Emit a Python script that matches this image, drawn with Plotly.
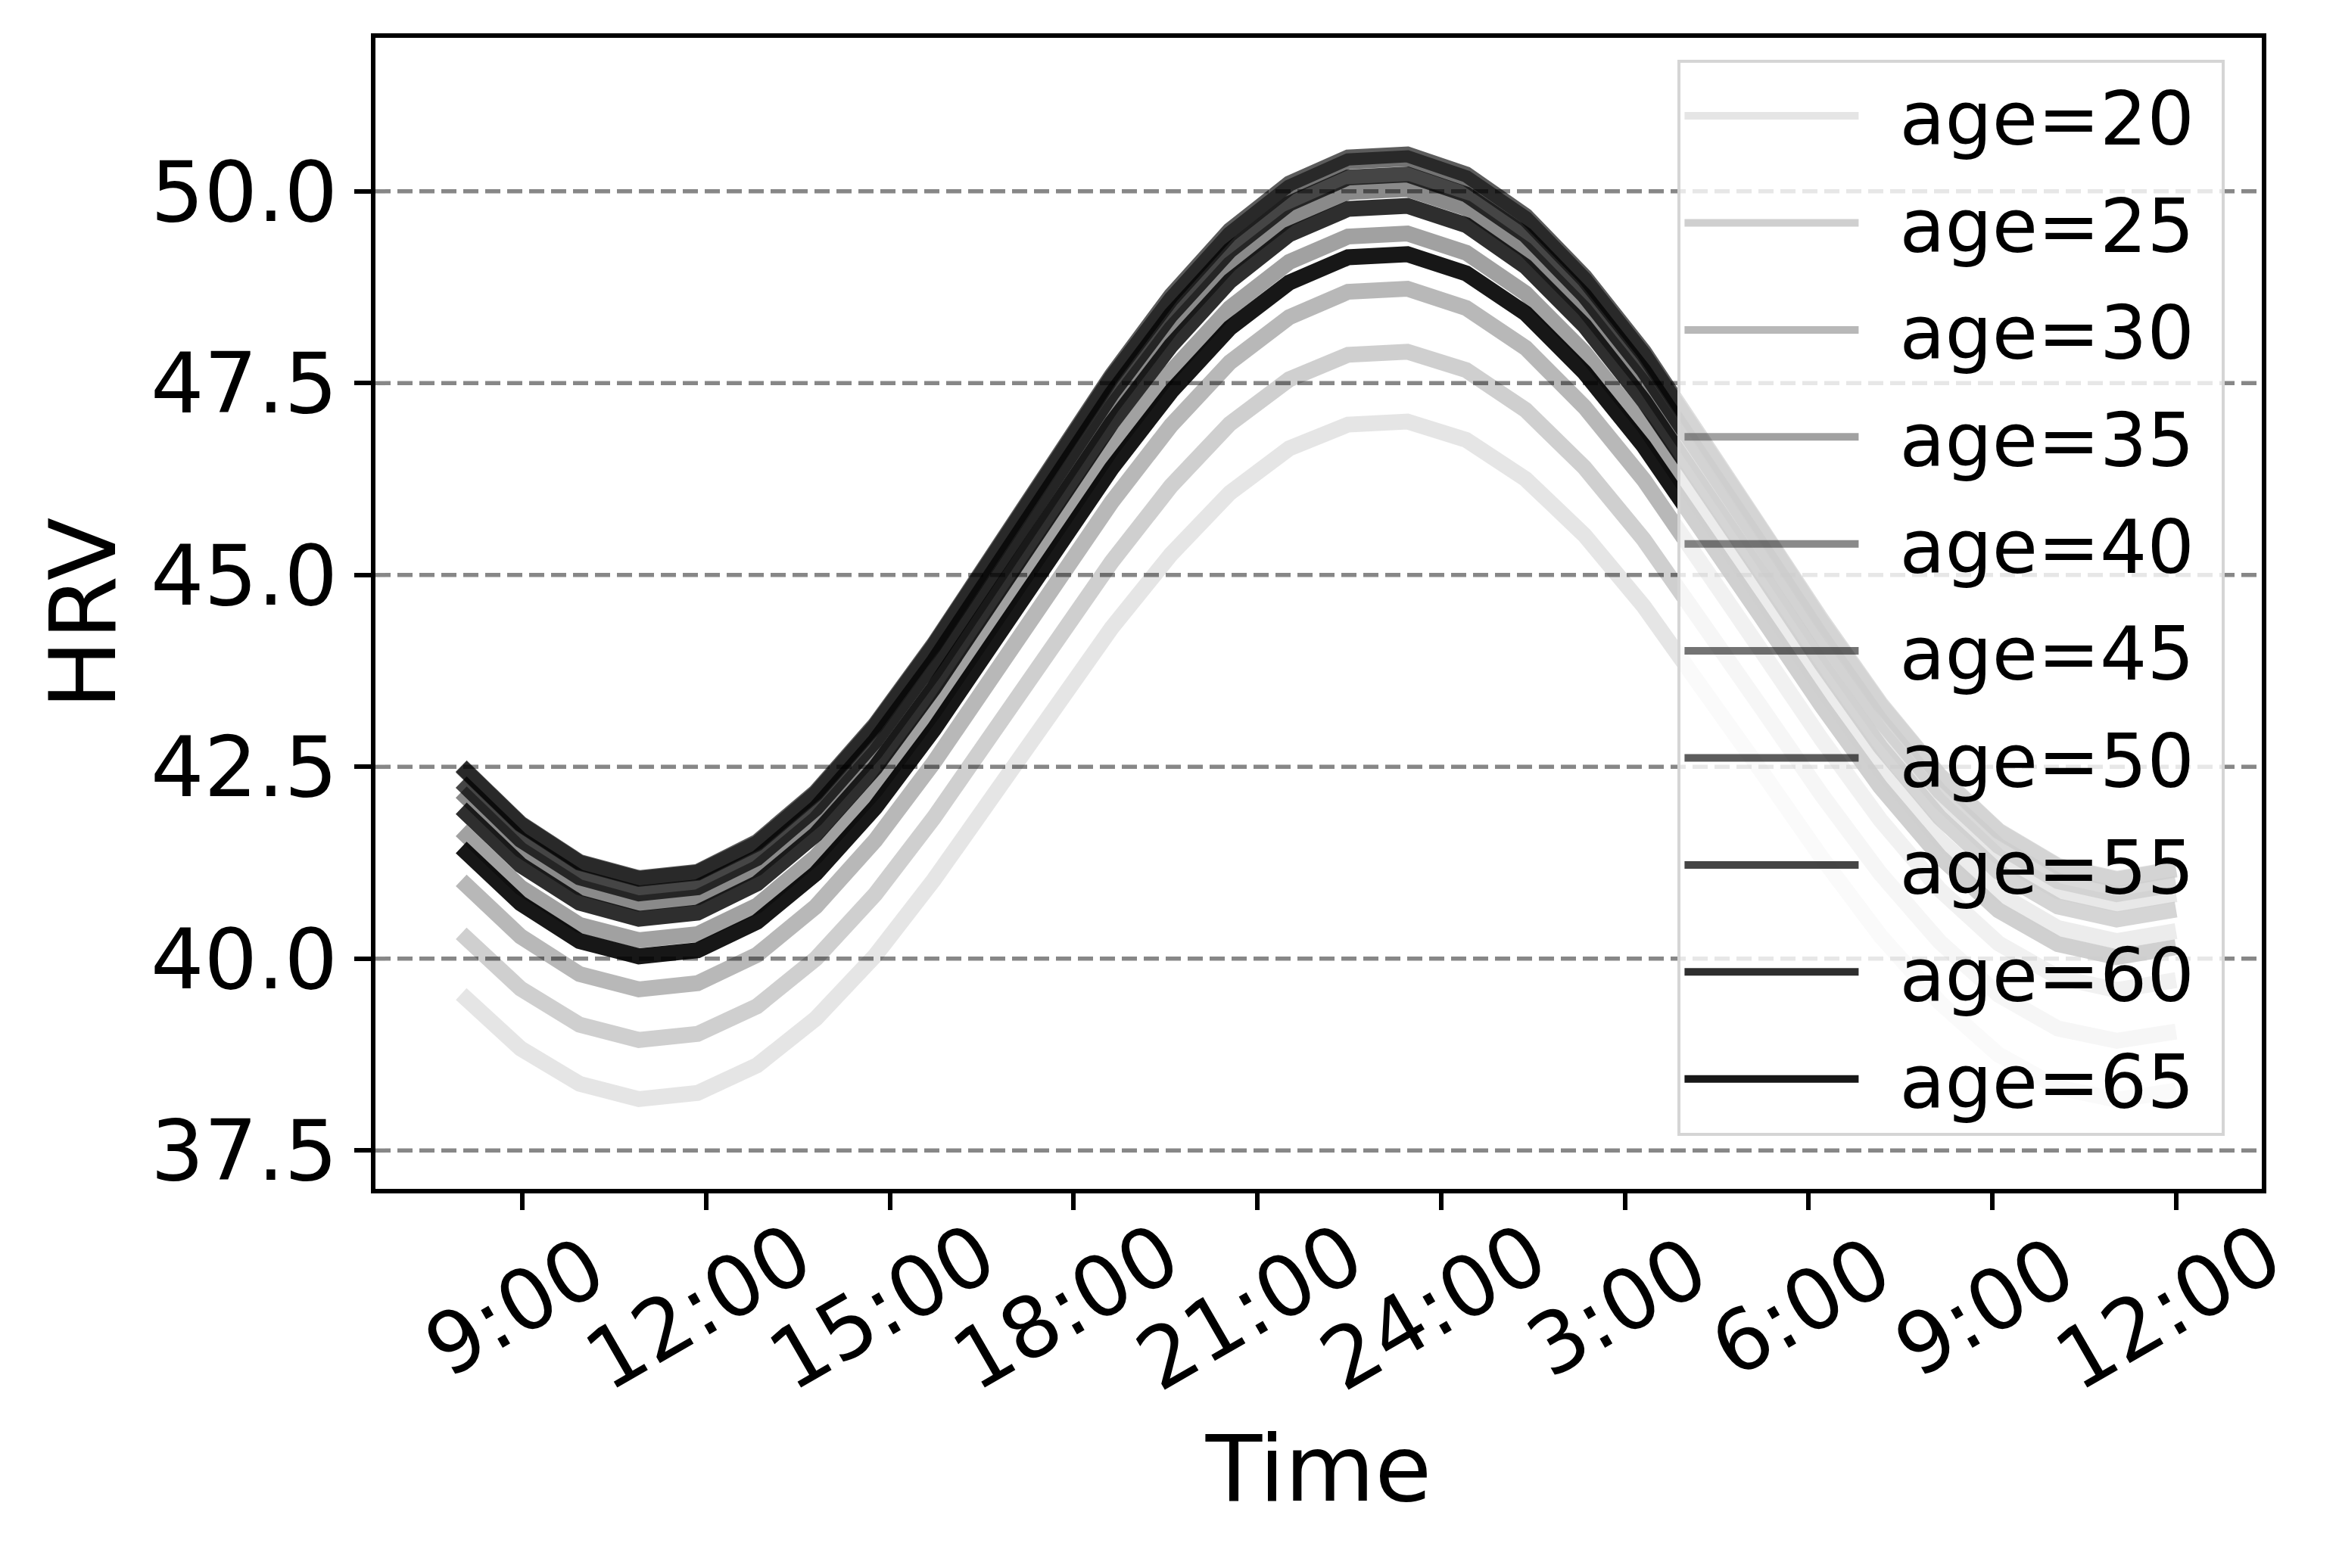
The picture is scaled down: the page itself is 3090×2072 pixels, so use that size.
import plotly.graph_objects as go

# ---- data ----
time_hours = [8.00, 8.97, 9.93, 10.90, 11.86, 12.83, 13.79, 14.76, 15.72, 16.69,
              17.66, 18.62, 19.59, 20.55, 21.52, 22.48, 23.45, 24.41, 25.38, 26.34,
              27.31, 28.28, 29.24, 30.21, 31.17, 32.14, 33.10, 34.07, 35.03, 36.00]

ages = [20, 25, 30, 35, 40, 45, 50, 55, 60, 65]

hrv_age20 = [39.54, 38.83, 38.37, 38.17, 38.25, 38.61, 39.22, 40.04, 41.03, 42.12,
             43.23, 44.31, 45.27, 46.07, 46.65, 46.96, 47.00, 46.76, 46.25, 45.52,
             44.59, 43.54, 42.43, 41.32, 40.30, 39.43, 38.75, 38.32, 38.16, 38.28]
hrv_age25 = [40.33, 39.61, 39.14, 38.94, 39.02, 39.38, 40.00, 40.84, 41.84, 42.95,
             44.08, 45.17, 46.16, 46.97, 47.55, 47.87, 47.91, 47.67, 47.15, 46.40,
             45.46, 44.39, 43.26, 42.14, 41.11, 40.22, 39.53, 39.09, 38.93, 39.05]
hrv_age30 = [41.02, 40.29, 39.80, 39.60, 39.68, 40.05, 40.68, 41.54, 42.56, 43.68,
             44.83, 45.95, 46.95, 47.77, 48.36, 48.69, 48.73, 48.48, 47.96, 47.19,
             46.24, 45.15, 44.00, 42.86, 41.81, 40.90, 40.20, 39.76, 39.59, 39.72]
hrv_age35 = [41.67, 40.93, 40.44, 40.24, 40.32, 40.69, 41.33, 42.19, 43.22, 44.35,
             45.52, 46.64, 47.65, 48.48, 49.08, 49.41, 49.45, 49.20, 48.67, 47.90,
             46.94, 45.84, 44.68, 43.53, 42.46, 41.55, 40.85, 40.40, 40.23, 40.36]
hrv_age40 = [42.17, 41.42, 40.93, 40.72, 40.80, 41.18, 41.82, 42.69, 43.73, 44.88,
             46.06, 47.19, 48.21, 49.05, 49.65, 49.99, 50.03, 49.78, 49.24, 48.46,
             47.49, 46.38, 45.21, 44.05, 42.97, 42.05, 41.33, 40.88, 40.71, 40.84]
hrv_age45 = [42.50, 41.75, 41.25, 41.04, 41.12, 41.50, 42.15, 43.03, 44.08, 45.24,
             46.42, 47.57, 48.59, 49.44, 50.05, 50.39, 50.43, 50.17, 49.64, 48.85,
             47.87, 46.75, 45.57, 44.39, 43.31, 42.38, 41.66, 41.20, 41.03, 41.16]
hrv_age50 = [42.51, 41.76, 41.26, 41.05, 41.13, 41.52, 42.17, 43.05, 44.10, 45.26,
             46.45, 47.60, 48.64, 49.49, 50.10, 50.44, 50.48, 50.22, 49.68, 48.89,
             47.91, 46.78, 45.59, 44.42, 43.33, 42.39, 41.67, 41.21, 41.04, 41.17]
hrv_age55 = [42.30, 41.55, 41.06, 40.85, 40.93, 41.31, 41.96, 42.84, 43.88, 45.04,
             46.22, 47.36, 48.39, 49.23, 49.84, 50.18, 50.22, 49.96, 49.43, 48.64,
             47.66, 46.55, 45.37, 44.20, 43.11, 42.18, 41.47, 41.01, 40.84, 40.97]
hrv_age60 = [41.96, 41.22, 40.73, 40.52, 40.60, 40.98, 41.62, 42.49, 43.53, 44.67,
             45.84, 46.98, 47.99, 48.83, 49.44, 49.77, 49.81, 49.56, 49.02, 48.25,
             47.27, 46.17, 45.00, 43.84, 42.76, 41.84, 41.13, 40.68, 40.51, 40.64]
hrv_age65 = [41.45, 40.72, 40.23, 40.03, 40.11, 40.48, 41.11, 41.97, 42.99, 44.12,
             45.27, 46.39, 47.39, 48.22, 48.81, 49.14, 49.18, 48.93, 48.41, 47.64,
             46.68, 45.59, 44.44, 43.30, 42.24, 41.33, 40.63, 40.19, 40.02, 40.15]

series = [hrv_age20, hrv_age25, hrv_age30, hrv_age35, hrv_age40,
          hrv_age45, hrv_age50, hrv_age55, hrv_age60, hrv_age65]

xtick_vals = [9, 12, 15, 18, 21, 24, 27, 30, 33, 36]
xtick_text = ["9:00", "12:00", "15:00", "18:00", "21:00", "24:00",
              "3:00", "6:00", "9:00", "12:00"]
ytick_vals = [37.5, 40.0, 42.5, 45.0, 47.5, 50.0]

# ---- style ----
line_alpha = [0.10, 0.19, 0.28, 0.37, 0.46, 0.55, 0.64, 0.73, 0.82, 0.91]
FONT = "DejaVu Sans"
NBSP = "\u00a0"
ENSP = "\u2002"

# short labels padded so that rotated labels sit centred on their ticks
xtick_display = [t + NBSP if len(t) == 4 else t for t in xtick_text]

fig = go.Figure()
for age, vals, a in zip(ages, series, line_alpha):
    fig.add_trace(go.Scatter(
        x=time_hours, y=vals, mode="lines",
        name=f"{ENSP}age={age}{NBSP}",
        legendgroup=f"g{age}",
        line=dict(color=f"rgba(0,0,0,{a})", width=21),
    ))

# dashed horizontal grid lines drawn above the curves
for v in ytick_vals:
    fig.add_shape(type="line", xref="paper", x0=0, x1=1, yref="y", y0=v, y1=v,
                  line=dict(color="rgba(0,0,0,0.47)", width=5.5, dash="20px,9px"),
                  layer="above")

fig.update_layout(
    width=3082, height=2064,
    template="none",
    paper_bgcolor="white", plot_bgcolor="white",
    margin=dict(l=488, r=102, t=42, b=501, autoexpand=False),
    font=dict(family=FONT, color="black", size=111),
    showlegend=True,
    legend=dict(
        x=0.9805, y=0.981, xanchor="right", yanchor="top",
        bgcolor="rgba(255,255,255,0.8)", bordercolor="#d5d5d5", borderwidth=4,
        font=dict(family=FONT, size=98, color="black"),
        itemwidth=230, tracegroupgap=11,
    ),
    xaxis=dict(
        range=[6.6, 37.4], tickmode="array", tickvals=xtick_vals, ticktext=xtick_display,
        tickangle=-30, ticks="outside", ticklen=22, tickwidth=5.5, tickcolor="black",
        showline=True, linewidth=5.5, linecolor="black", mirror=True,
        showgrid=False, zeroline=False, automargin=False,
        tickfont=dict(family=FONT, size=111),
        ticklabelshift=120, ticklabelstandoff=-44,
        title=dict(text="Time", font=dict(family=FONT, size=122), standoff=38),
    ),
    yaxis=dict(
        range=[37, 52], tickmode="array", tickvals=ytick_vals,
        ticktext=[f"{v:.1f}" for v in ytick_vals],
        ticks="outside", ticklen=22, tickwidth=5.5, tickcolor="black",
        showline=True, linewidth=5.5, linecolor="black", mirror=True,
        showgrid=False, zeroline=False, automargin=False,
        tickfont=dict(family=FONT, size=111),
        ticklabelstandoff=0,
        title=dict(text="HRV", font=dict(family=FONT, size=122), standoff=7),
    ),
)

fig.write_html("out.html")
